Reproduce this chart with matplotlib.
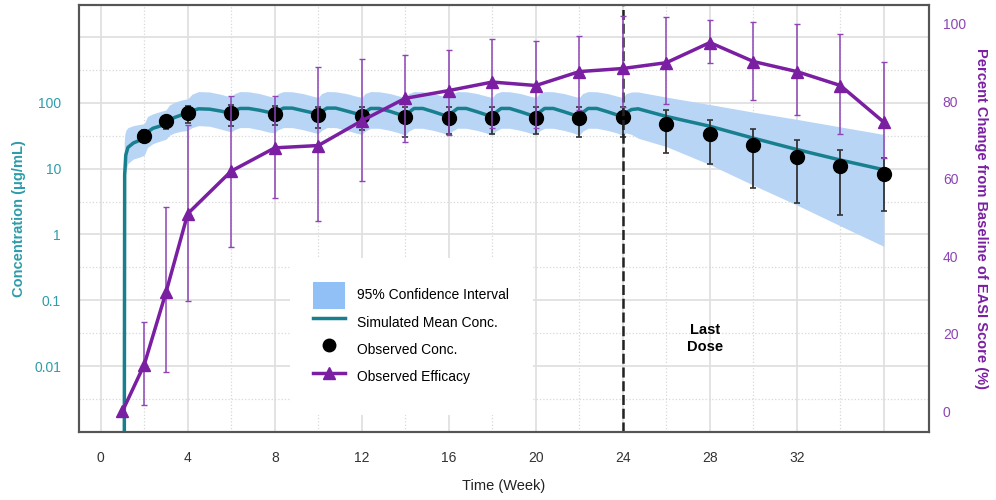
import matplotlib
matplotlib.use('Agg')
import matplotlib.pyplot as plt
from matplotlib.patches import Patch
from matplotlib.lines import Line2D
from matplotlib.ticker import FixedLocator, NullFormatter

plt.rcParams['font.family'] = ['Liberation Sans', 'DejaVu Sans']

# simulated mean concentration and 95% CI
mean_t = [1.08, 1.10, 1.15, 1.25, 1.5, 1.8, 2.0, 2.15, 2.4, 2.7, 3.0, 3.15, 3.4, 3.7, 4.0, 4.2, 4.5, 5.0, 5.5, 6.0,
          6.15, 6.4, 6.8, 7.3, 7.7, 8.0,
          8.15, 8.4, 8.8, 9.3, 9.7, 10.0,
          10.15, 10.4, 10.8, 11.3, 11.7, 12.0,
          12.15, 12.4, 12.8, 13.3, 13.7, 14.0,
          14.15, 14.4, 14.8, 15.3, 15.7, 16.0,
          16.15, 16.4, 16.8, 17.3, 17.7, 18.0,
          18.15, 18.4, 18.8, 19.3, 19.7, 20.0,
          20.15, 20.4, 20.8, 21.3, 21.7, 22.0,
          22.15, 22.4, 22.8, 23.3, 23.7, 24.0,
          24.15, 24.4, 24.7, 26.0, 28.0, 30.0, 32.0, 34.0, 36.0]
mean_conc = [1e-4, 8, 16, 21, 24.5, 27, 29, 36, 41, 44, 48, 54, 60, 65, 70, 76, 81, 80, 75, 69,
             76, 82, 82, 77, 72, 68,
             75, 83, 83, 76, 71, 66,
             74, 83, 83, 75, 69, 63,
             72, 82, 82, 74, 67, 61,
             71, 82, 82, 73, 66, 60,
             71, 82, 82, 73, 66, 60,
             71, 82, 82, 73, 66, 60,
             71, 82, 82, 73, 66, 60,
             71, 82, 82, 73, 66, 60,
             71, 79, 81, 62, 44, 29, 19.5, 13.5, 9.6]
ci_lo = [5, 6, 9, 12, 14, 15, 16, 21, 24, 26, 28, 32, 35, 37, 38, 42, 45, 44, 40, 36,
         39, 42, 42, 39, 36, 35,
         39, 42, 42, 39, 36, 34,
         38, 42, 42, 38, 35, 33,
         37, 41, 41, 38, 35, 32,
         37, 41, 41, 38, 35, 32,
         37, 41, 41, 38, 35, 32,
         37, 41, 41, 38, 35, 32,
         37, 41, 41, 38, 35, 32,
         37, 41, 41, 38, 35, 32,
         35, 33, 29, 21.6, 11.5, 5.6, 2.8, 1.35, 0.66]
ci_hi = [25, 32, 38, 42, 45, 47, 48, 62, 68, 73, 78, 92, 102, 110, 115, 135, 148, 146, 135, 122,
         138, 148, 147, 138, 127, 120,
         138, 148, 147, 138, 127, 120,
         138, 148, 147, 138, 127, 120,
         138, 148, 147, 138, 127, 120,
         138, 148, 147, 138, 127, 120,
         138, 148, 147, 138, 127, 120,
         138, 148, 147, 138, 127, 120,
         138, 148, 147, 138, 127, 120,
         138, 148, 147, 138, 127, 120,
         138, 146, 146, 122, 94, 72, 56, 43, 33]

# observed concentration (ug/mL)
obs_t = [2, 3, 4, 6, 8, 10, 12, 14, 16, 18, 20, 22, 24, 26, 28, 30, 32, 34, 36]
obs_conc = [31.6, 53, 70, 70, 68, 66, 63, 61, 59, 59, 59, 59, 61, 48, 34, 22.5, 15, 10.8, 8.4]
obs_lo = [27, 40, 50, 44, 46, 42, 39, 30, 33, 33, 33, 30, 30.5, 17.5, 11.9, 5.0, 3.05, 2.0, 2.3]
obs_hi = [38, 64, 90, 92, 90, 87, 87, 85, 87, 87, 87, 87, 87, 78, 55, 40, 27.5, 19.4, 14.7]

# observed efficacy (% change from baseline EASI)
eff_t = [1, 2, 3, 4, 6, 8, 10, 12, 14, 16, 18, 20, 22, 24, 26, 28, 30, 32, 34, 36]
eff = [0, 12, 30.7, 51, 62, 68, 68.6, 75, 80.8, 82.8, 85, 84.1, 87.7, 88.5, 90, 95.2, 90.3, 87.7, 84.1, 74.6]
eff_lo = [0, 1.5, 10, 28.4, 42.3, 55, 49, 59.4, 69.4, 71.2, 73, 73, 77.7, 78.5, 79.2, 89.8, 80.3, 76.4, 71.5, 65.3]
eff_hi = [0, 23, 52.6, 74, 81.5, 81.3, 88.8, 91, 91.9, 93.2, 96, 95.7, 97, 102, 101.7, 100.9, 100.6, 99.9, 97.3, 90.3]

last_dose = 24
x_ticks = [0, 4, 8, 12, 16, 20, 24, 28, 32, 36]
x_labels = ['0', '4', '8', '12', '16', '20', '24', '28', '32', '']
y_ticks = [0.01, 0.1, 1, 10, 100]
y_labels = ['0.01', '0.1', '1', '10', '100']

teal = '#177f8d'
teal_txt = '#2e9cab'
purple = '#7a1fa2'
purple_txt = '#8d45b3'
band_col = '#b8d5f6'

fig = plt.figure(figsize=(9.96, 5.0), dpi=100)
ax = fig.add_axes([0.0793, 0.136, 0.8534, 0.854])

ax.fill_between(mean_t, ci_lo, ci_hi, color=band_col, lw=0, zorder=2)
ax.plot(mean_t, mean_conc, color=teal, lw=2.5, zorder=3)
ax.errorbar(obs_t, obs_conc,
            yerr=[[c - l for c, l in zip(obs_conc, obs_lo)], [h - c for c, h in zip(obs_conc, obs_hi)]],
            fmt='o', color='black', ms=10, ecolor='#333333', elinewidth=1.3, capsize=2.5, capthick=1.2, zorder=4)
ax.axvline(last_dose, color='#222222', lw=1.8, ls=(0, (4, 1.5)), zorder=5)

ax.set_yscale('log')
ax.set_ylim(1e-3, 3055)
ax.set_xlim(-1.0, 38.07)
ax.set_xticks(x_ticks)
ax.set_xticklabels(x_labels)
ax.xaxis.set_minor_locator(FixedLocator([2, 6, 10, 14, 18, 22, 26, 30, 34]))
ax.set_yticks([1e-3, 0.01, 0.1, 1, 10, 100, 1000])
ax.set_yticklabels([''] + y_labels + [''])
ax.yaxis.set_minor_locator(FixedLocator([10 ** (k + 0.5) for k in range(-3, 4)]))
ax.yaxis.set_minor_formatter(NullFormatter())
ax.grid(True, which='major', color='#e0e0e0', lw=1.3, zorder=0)
ax.grid(True, which='minor', color='#d8d8d8', lw=0.9, ls=':', zorder=0)
ax.set_axisbelow(True)
ax.tick_params(axis='both', which='both', length=0)
ax.tick_params(axis='x', pad=14, labelsize=10, labelcolor='#333333')
ax.tick_params(axis='y', pad=13, labelsize=10, labelcolor=teal_txt)
ax.set_xlabel('Time (Week)', fontsize=10.5, color='#222222', labelpad=10)
ax.set_ylabel('Concentration (\u03bcg/mL)', fontsize=10.5, color=teal_txt, fontweight='bold', labelpad=6)
for s in ax.spines.values():
    s.set_color('#555555')
    s.set_linewidth(1.5)

ax2 = ax.twinx()
ax2.errorbar(eff_t, eff,
             yerr=[[e - l for e, l in zip(eff, eff_lo)], [h - e for e, h in zip(eff, eff_hi)]],
             fmt='-^', color=purple, lw=2.5, ms=9, ecolor='#8e44b5', elinewidth=1.1, capsize=2, capthick=1.0, zorder=6)
ax2.set_ylim(-5.4, 104.9)
ax2.set_yticks([0, 20, 40, 60, 80, 100])
ax2.tick_params(axis='y', length=0, pad=10, labelsize=10, labelcolor=purple_txt)
ax2.set_ylabel('Percent Change from Baseline of EASI Score (%)', fontsize=10.5, color=purple,
               fontweight='bold', rotation=270, labelpad=16)
for s in ax2.spines.values():
    s.set_color('#555555')
    s.set_linewidth(1.5)

ax2.text(27.8, 18.8, 'Last\nDose', ha='center', va='center', fontsize=10.5, fontweight='bold', linespacing=1.25)

handles = [Patch(facecolor='#90c0f6', edgecolor='none'),
           Line2D([], [], color=teal, lw=2.5),
           Line2D([], [], marker='o', color='black', ls='none', ms=9),
           Line2D([], [], marker='^', color=purple, lw=2.5, ms=9)]
labels = ['95% Confidence Interval', 'Simulated Mean Conc.', 'Observed Conc.', 'Observed Efficacy']
leg = ax2.legend(handles, labels, loc='upper left', bbox_to_anchor=(0.248, 0.4075), borderaxespad=0,
                 fontsize=10, frameon=True, facecolor='white', edgecolor='none', framealpha=1, fancybox=False,
                 handleheight=2.65, handlelength=2.3, handletextpad=0.85, labelspacing=0.0, borderpad=1.7)
leg.set_zorder(20)

fig.savefig('out.png', dpi=100)
